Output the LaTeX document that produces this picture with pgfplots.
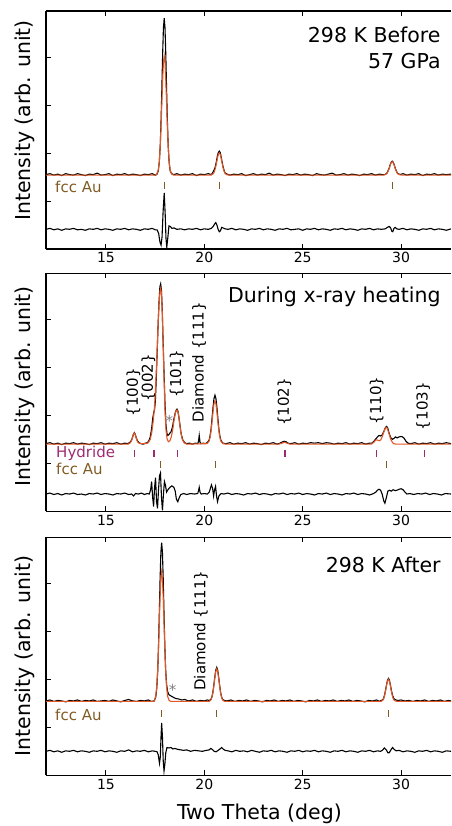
\documentclass[border=0pt]{standalone}
\usepackage{fontspec}
\setmainfont{DejaVu Sans}
\usepackage{pgfplots}
\pgfplotsset{compat=1.18}
\definecolor{fitorange}{RGB}{226,86,38}
\definecolor{aubrown}{RGB}{128,92,36}
\definecolor{hydpurple}{RGB}{158,42,112}
\pgfplotsset{
 panel/.style={
  scale only axis, width=405pt, height=238pt,
  xmin=11.95, xmax=32.54, ymin=0, ymax=4.96,
  axis x line*=box, axis y line*=left, axis line style={-, line width=1.1pt},
  xtick={15,20,25,30}, ytick={1,2,3,4}, yticklabels={},
  tick align=inside, major tick length=5pt,
  tick style={line width=1pt, black},
  xticklabel style={font=\fontsize{14}{16}\selectfont},
  /pgf/number format/assume math mode=true,
  ylabel={Intensity (arb. unit)},
  ylabel style={font=\fontsize{20.5}{24}\selectfont, anchor=center},
 },
 obs/.style={black, line width=1.1pt, mark=none},
 fit/.style={fitorange, line width=1.1pt, mark=none},
 tk/.style={only marks, mark=|, mark size=3.4pt, mark options={line width=1.1pt}},
}
\tikzset{
 ptitle/.style={anchor=east, font=\fontsize{20.5}{24}\selectfont},
 ann/.style={rotate=90, anchor=west, inner sep=0pt, font=\fontsize{15}{18}\selectfont},
 lab/.style={anchor=west, inner sep=0pt, font=\fontsize{15}{18}\selectfont},
}
\begin{document}
\begin{tikzpicture}
\useasboundingbox (0,0) rectangle (451pt,-826pt);
% ---------------- Panel 1 ----------------
\begin{axis}[panel, at={(46pt,-11pt)}, anchor=north west,
  ylabel style={at={(axis description cs:-0.052,0.54)}}]
\addplot[obs] coordinates {(11.95,1.55)(12.15,1.57)(12.35,1.54)(12.55,1.56)(12.75,1.53)(12.95,1.57)(13.15,1.55)(13.35,1.54)(13.55,1.57)(13.75,1.55)(13.95,1.53)(14.15,1.56)(14.35,1.55)(14.55,1.58)(14.75,1.54)(14.95,1.55)(15.15,1.57)(15.35,1.53)(15.55,1.56)(15.75,1.55)(15.95,1.57)(16.15,1.54)(16.35,1.56)(16.55,1.55)(16.75,1.53)(16.95,1.56)(17.15,1.55)(17.35,1.57)(17.5,1.54)
(17.58,1.55)(17.66,1.63)(17.71,1.81)(17.76,2.17)(17.80,2.69)(17.84,3.34)(17.88,4.06)(17.92,4.61)(17.96,4.81)(18.00,4.61)(18.04,4.06)(18.08,3.34)(18.12,2.69)(18.16,2.17)(18.21,1.81)(18.26,1.63)(18.34,1.57)
(18.45,1.55)(18.6,1.57)(18.8,1.54)(19.0,1.56)(19.2,1.55)(19.4,1.57)(19.6,1.53)(19.8,1.56)(20.0,1.55)(20.2,1.57)
(20.36,1.55)(20.45,1.61)(20.51,1.66)(20.56,1.72)(20.61,1.82)(20.66,1.93)(20.71,2.01)(20.76,2.04)(20.81,2.01)(20.86,1.91)(20.91,1.80)(20.96,1.70)(21.01,1.63)(21.06,1.58)(21.16,1.56)
(21.3,1.54)(21.5,1.56)(21.7,1.55)(21.9,1.57)(22.1,1.53)(22.3,1.55)(22.5,1.57)(22.7,1.54)(22.9,1.56)(23.1,1.55)(23.3,1.58)(23.5,1.54)(23.7,1.56)(23.9,1.55)(24.1,1.53)(24.3,1.56)(24.5,1.55)(24.7,1.57)(24.9,1.54)(25.1,1.56)(25.3,1.55)(25.5,1.53)(25.7,1.57)(25.9,1.55)(26.1,1.54)(26.3,1.56)(26.5,1.58)(26.7,1.54)(26.9,1.55)(27.1,1.57)(27.3,1.54)(27.5,1.56)(27.7,1.55)(27.9,1.53)(28.1,1.56)(28.3,1.55)(28.5,1.57)(28.7,1.54)(28.9,1.56)(29.05,1.55)
(29.17,1.55)(29.25,1.57)(29.3,1.59)(29.35,1.64)(29.4,1.69)(29.45,1.76)(29.5,1.81)(29.55,1.83)(29.6,1.81)(29.65,1.76)(29.7,1.69)(29.75,1.64)(29.8,1.59)(29.85,1.57)(29.95,1.55)
(30.1,1.57)(30.3,1.54)(30.5,1.56)(30.7,1.55)(30.9,1.57)(31.1,1.53)(31.3,1.56)(31.5,1.55)(31.7,1.57)(31.9,1.54)(32.1,1.56)(32.3,1.55)(32.54,1.56)};
\addplot[fit] coordinates {(11.95,1.54)(17.5,1.54)(17.58,1.56)(17.66,1.65)(17.71,1.82)(17.76,2.16)(17.80,2.56)(17.84,3.05)(17.88,3.52)(17.92,3.89)(17.96,4.02)(18.00,3.89)(18.04,3.52)(18.08,3.05)(18.12,2.56)(18.16,2.16)(18.21,1.82)(18.26,1.65)(18.34,1.56)(18.45,1.54)(20.3,1.54)(20.36,1.545)(20.46,1.57)(20.51,1.615)(20.56,1.68)(20.61,1.775)(20.66,1.88)(20.71,1.97)(20.76,2.00)(20.81,1.97)(20.86,1.88)(20.91,1.775)(20.96,1.68)(21.01,1.615)(21.06,1.57)(21.16,1.545)(21.3,1.54)(29.1,1.54)(29.15,1.545)(29.25,1.56)(29.3,1.585)(29.35,1.63)(29.4,1.68)(29.45,1.75)(29.5,1.80)(29.55,1.82)(29.6,1.80)(29.65,1.75)(29.7,1.68)(29.75,1.63)(29.8,1.585)(29.85,1.56)(29.95,1.545)(30.1,1.54)(32.54,1.54)};
\addplot[obs] coordinates {(11.95,0.41)(12.15,0.43)(12.35,0.40)(12.55,0.42)(12.75,0.39)(12.95,0.42)(13.15,0.41)(13.35,0.43)(13.55,0.40)(13.75,0.41)(13.95,0.39)(14.15,0.42)(14.35,0.41)(14.55,0.43)(14.75,0.40)(14.95,0.42)(15.15,0.41)(15.35,0.39)(15.55,0.42)(15.75,0.41)(15.95,0.43)(16.15,0.40)(16.35,0.42)(16.55,0.41)(16.75,0.39)(16.95,0.42)(17.15,0.41)(17.35,0.43)(17.5,0.40)(17.6,0.40)(17.68,0.32)(17.74,0.15)(17.8,0.08)(17.85,0.25)(17.9,0.75)(17.96,1.17)(18.01,0.72)(18.05,0.22)(18.09,0.04)(18.14,0.22)(18.2,0.48)(18.27,0.47)(18.35,0.43)(18.45,0.44)(18.6,0.41)(18.8,0.42)(19.0,0.40)(19.2,0.42)(19.4,0.41)(19.6,0.43)(19.8,0.40)(20.0,0.42)(20.2,0.41)(20.35,0.43)(20.45,0.47)(20.52,0.52)(20.58,0.55)(20.64,0.50)(20.7,0.41)(20.76,0.36)(20.82,0.38)(20.88,0.45)(20.95,0.44)(21.05,0.42)(21.2,0.41)(21.4,0.43)(21.6,0.40)(21.8,0.42)(22.0,0.41)(22.2,0.39)(22.4,0.42)(22.6,0.41)(22.8,0.43)(23.0,0.40)(23.2,0.42)(23.4,0.41)(23.6,0.39)(23.8,0.42)(24.0,0.41)(24.2,0.43)(24.4,0.40)(24.6,0.41)(24.8,0.42)(25.0,0.39)(25.2,0.42)(25.4,0.41)(25.6,0.43)(25.8,0.40)(26.0,0.42)(26.2,0.41)(26.4,0.39)(26.6,0.42)(26.8,0.41)(27.0,0.43)(27.2,0.40)(27.4,0.42)(27.6,0.41)(27.8,0.39)(28.0,0.42)(28.2,0.41)(28.4,0.43)(28.6,0.40)(28.8,0.42)(29.0,0.41)(29.2,0.42)(29.3,0.45)(29.4,0.47)(29.47,0.44)(29.53,0.37)(29.58,0.36)(29.64,0.43)(29.7,0.45)(29.78,0.42)(29.9,0.41)(30.1,0.43)(30.3,0.40)(30.5,0.42)(30.7,0.41)(30.9,0.39)(31.1,0.42)(31.3,0.41)(31.5,0.43)(31.7,0.40)(31.9,0.42)(32.1,0.41)(32.3,0.39)(32.54,0.42)};
\addplot[tk, aubrown] coordinates {(17.96,1.33)(20.76,1.33)(29.55,1.33)};
\node[lab, text=aubrown] at (axis cs:12.41,1.29) {fcc Au};
\node[ptitle] at (rel axis cs:0.983,0.899) {298 K Before};
\node[ptitle] at (rel axis cs:0.983,0.79) {57 GPa};
\end{axis}
% ---------------- Panel 2 ----------------
\begin{axis}[panel, at={(46pt,-273.3pt)}, anchor=north west,
  ylabel style={at={(axis description cs:-0.052,0.525)}}]
\addplot[obs] coordinates {(11.95,1.41)(12.15,1.43)(12.35,1.40)(12.55,1.42)(12.75,1.39)(12.95,1.42)(13.15,1.41)(13.35,1.43)(13.55,1.40)(13.75,1.42)(13.95,1.41)(14.15,1.39)(14.35,1.42)(14.55,1.41)(14.75,1.43)(14.95,1.40)(15.15,1.42)(15.35,1.41)(15.55,1.43)(15.75,1.40)(15.95,1.42)(16.1,1.41)(16.2,1.43)(16.28,1.47)(16.34,1.53)(16.39,1.60)(16.44,1.64)(16.49,1.60)(16.54,1.53)(16.6,1.47)(16.68,1.43)(16.78,1.41)(16.9,1.40)(17.0,1.42)(17.1,1.43)(17.18,1.47)(17.25,1.55)(17.32,1.72)(17.38,1.95)(17.43,2.06)(17.47,2.12)(17.51,2.3)(17.55,2.7)(17.6,3.3)(17.65,3.9)(17.7,4.4)(17.74,4.68)(17.78,4.74)(17.82,4.6)(17.86,4.2)(17.9,3.6)(17.95,2.9)(18.0,2.25)(18.05,1.8)(18.1,1.62)(18.15,1.58)(18.2,1.6)(18.25,1.63)(18.31,1.66)(18.38,1.76)(18.45,1.92)(18.52,2.05)(18.57,2.11)(18.61,2.13)(18.65,2.10)(18.7,1.98)(18.76,1.80)(18.82,1.62)(18.9,1.49)(19.0,1.43)(19.1,1.41)(19.25,1.42)(19.4,1.40)(19.55,1.42)(19.66,1.41)(19.7,1.45)(19.74,1.58)(19.78,1.44)(19.82,1.41)(19.95,1.42)(20.05,1.41)(20.14,1.43)(20.24,1.48)(20.29,1.57)(20.34,1.71)(20.39,1.93)(20.44,2.16)(20.49,2.35)(20.54,2.42)(20.59,2.35)(20.64,2.16)(20.69,1.93)(20.74,1.71)(20.79,1.57)(20.84,1.48)(20.94,1.42)(21.1,1.41)(21.3,1.43)(21.5,1.40)(21.7,1.42)(21.9,1.41)(22.1,1.43)(22.3,1.40)(22.5,1.42)(22.7,1.41)(22.9,1.39)(23.1,1.42)(23.3,1.41)(23.5,1.43)(23.7,1.40)(23.85,1.42)(23.95,1.44)(24.05,1.46)(24.15,1.45)(24.25,1.42)(24.4,1.41)(24.6,1.43)(24.8,1.40)(25.0,1.42)(25.2,1.41)(25.4,1.43)(25.6,1.42)(25.8,1.43)(26.0,1.41)(26.2,1.43)(26.4,1.42)(26.6,1.40)(26.8,1.42)(27.0,1.41)(27.2,1.43)(27.4,1.40)(27.6,1.42)(27.8,1.41)(28.0,1.43)(28.2,1.40)(28.4,1.42)(28.52,1.42)(28.6,1.45)(28.7,1.50)(28.8,1.55)(28.88,1.58)(28.96,1.57)(29.04,1.59)(29.12,1.66)(29.2,1.74)(29.26,1.77)(29.32,1.74)(29.4,1.62)(29.48,1.53)(29.56,1.50)(29.64,1.52)(29.72,1.55)(29.8,1.53)(29.9,1.55)(30.0,1.56)(30.08,1.55)(30.16,1.52)(30.25,1.46)(30.35,1.42)(30.5,1.41)(30.7,1.43)(30.9,1.40)(31.1,1.42)(31.3,1.41)(31.5,1.43)(31.7,1.40)(31.9,1.42)(32.1,1.41)(32.3,1.43)(32.54,1.41)};
\addplot[fit] coordinates {(11.95,1.40)(16.14,1.40)(16.24,1.43)(16.3,1.47)(16.36,1.55)(16.4,1.61)(16.44,1.63)(16.48,1.61)(16.52,1.55)(16.58,1.47)(16.64,1.43)(16.74,1.41)(17.05,1.41)(17.15,1.43)(17.25,1.50)(17.33,1.65)(17.4,1.88)(17.45,2.1)(17.5,2.4)(17.55,2.85)(17.6,3.35)(17.65,3.9)(17.7,4.35)(17.75,4.6)(17.78,4.65)(17.82,4.55)(17.86,4.15)(17.9,3.55)(17.95,2.8)(18.0,2.1)(18.05,1.7)(18.1,1.52)(18.17,1.45)(18.25,1.47)(18.32,1.55)(18.4,1.72)(18.47,1.93)(18.54,2.07)(18.61,2.11)(18.68,2.04)(18.74,1.85)(18.8,1.65)(18.88,1.5)(18.97,1.43)(19.1,1.40)(20.14,1.41)(20.24,1.46)(20.29,1.54)(20.34,1.67)(20.39,1.86)(20.44,2.07)(20.49,2.24)(20.54,2.30)(20.59,2.24)(20.64,2.07)(20.69,1.86)(20.74,1.67)(20.79,1.54)(20.84,1.46)(20.94,1.41)(21.1,1.40)(23.8,1.40)(23.95,1.42)(24.07,1.44)(24.2,1.42)(24.35,1.40)(28.5,1.40)(28.62,1.44)(28.7,1.48)(28.76,1.49)(28.82,1.48)(28.9,1.47)(28.97,1.49)(29.05,1.56)(29.12,1.65)(29.2,1.73)(29.25,1.75)(29.3,1.73)(29.38,1.63)(29.46,1.52)(29.54,1.45)(29.62,1.41)(29.75,1.40)(32.54,1.40)};
\addplot[obs] coordinates {(11.95,0.36)(12.15,0.38)(12.35,0.35)(12.55,0.37)(12.75,0.34)(12.95,0.37)(13.15,0.36)(13.35,0.38)(13.55,0.35)(13.75,0.36)(13.95,0.34)(14.15,0.37)(14.35,0.36)(14.55,0.38)(14.75,0.35)(14.95,0.37)(15.15,0.36)(15.35,0.34)(15.55,0.37)(15.75,0.36)(15.95,0.38)(16.15,0.35)(16.3,0.36)(16.4,0.32)(16.5,0.37)(16.65,0.36)(16.8,0.38)(16.95,0.35)(17.1,0.37)(17.2,0.36)(17.27,0.45)(17.32,0.62)(17.37,0.30)(17.42,0.10)(17.47,0.50)(17.52,0.70)(17.57,0.20)(17.62,0.06)(17.67,0.45)(17.72,0.74)(17.77,0.80)(17.82,0.30)(17.87,0.02)(17.92,0.35)(17.97,0.62)(18.02,0.55)(18.08,0.40)(18.15,0.45)(18.25,0.50)(18.35,0.53)(18.45,0.50)(18.52,0.42)(18.58,0.25)(18.65,0.20)(18.72,0.28)(18.8,0.35)(18.95,0.37)(19.1,0.35)(19.3,0.37)(19.5,0.36)(19.66,0.37)(19.7,0.42)(19.74,0.50)(19.78,0.40)(19.84,0.36)(20.0,0.37)(20.15,0.36)(20.25,0.40)(20.31,0.48)(20.36,0.55)(20.42,0.48)(20.47,0.32)(20.52,0.45)(20.57,0.52)(20.62,0.32)(20.67,0.20)(20.74,0.32)(20.85,0.37)(21.0,0.36)(21.2,0.38)(21.4,0.35)(21.6,0.37)(21.8,0.36)(22.0,0.34)(22.2,0.37)(22.4,0.36)(22.6,0.38)(22.8,0.35)(23.0,0.37)(23.2,0.36)(23.4,0.34)(23.6,0.37)(23.8,0.36)(24.0,0.38)(24.2,0.35)(24.4,0.37)(24.6,0.36)(24.8,0.38)(25.0,0.35)(25.2,0.37)(25.4,0.36)(25.6,0.34)(25.8,0.37)(26.0,0.36)(26.2,0.38)(26.4,0.35)(26.6,0.37)(26.8,0.36)(27.0,0.34)(27.2,0.37)(27.4,0.36)(27.6,0.38)(27.8,0.35)(28.0,0.37)(28.2,0.36)(28.4,0.34)(28.6,0.37)(28.72,0.40)(28.8,0.44)(28.88,0.46)(28.96,0.44)(29.04,0.36)(29.12,0.22)(29.18,0.17)(29.25,0.28)(29.33,0.42)(29.42,0.44)(29.5,0.42)(29.6,0.45)(29.7,0.43)(29.8,0.44)(29.9,0.46)(30.0,0.47)(30.1,0.45)(30.2,0.40)(30.3,0.36)(30.45,0.37)(30.65,0.35)(30.85,0.37)(31.05,0.36)(31.25,0.38)(31.45,0.35)(31.65,0.37)(31.85,0.36)(32.05,0.34)(32.25,0.37)(32.54,0.36)};
\addplot[tk, hydpurple] coordinates {(16.44,1.20)(17.44,1.20)(18.64,1.20)(24.10,1.20)(28.73,1.20)(31.20,1.20)};
\addplot[tk, aubrown] coordinates {(17.76,0.98)(20.56,0.98)(29.24,0.98)};
\node[lab, text=hydpurple] at (axis cs:12.46,1.21) {Hydride};
\node[lab, text=aubrown] at (axis cs:12.46,0.89) {fcc Au};
\node[ann] at (axis cs:16.39,1.98) {\{100\}};
\node[ann] at (axis cs:17.15,2.28) {\{002\}};
\node[ann] at (axis cs:18.59,2.37) {\{101\}};
\node[ann] at (axis cs:19.73,1.85) {Diamond \{111\}};
\node[ann] at (axis cs:24.07,1.78) {\{102\}};
\node[ann] at (axis cs:28.76,1.81) {\{110\}};
\node[ann] at (axis cs:31.13,1.69) {\{103\}};
\node[gray, font=\fontsize{15}{18}\selectfont] at (axis cs:18.22,1.88) {*};
\node[ptitle] at (rel axis cs:0.983,0.902) {During x-ray heating};
\end{axis}
% ---------------- Panel 3 ----------------
\begin{axis}[panel, at={(46pt,-537.3pt)}, anchor=north west,
  ylabel style={at={(axis description cs:-0.052,0.5)}},
  xlabel={Two Theta (deg)},
  xlabel style={font=\fontsize{20.5}{24}\selectfont, at={(axis description cs:0.527,-0.16)}, anchor=center}]
\addplot[obs] coordinates {(11.95,1.55)(12.15,1.57)(12.35,1.54)(12.55,1.56)(12.75,1.55)(12.95,1.53)(13.15,1.56)(13.35,1.55)(13.55,1.57)(13.75,1.54)(13.95,1.56)(14.15,1.55)(14.35,1.57)(14.55,1.54)(14.75,1.55)(14.95,1.56)(15.15,1.54)(15.35,1.57)(15.55,1.55)(15.75,1.53)(15.95,1.56)(16.15,1.58)(16.35,1.55)(16.55,1.54)(16.75,1.56)(16.95,1.55)(17.15,1.57)(17.3,1.54)(17.45,1.55)(17.53,1.63)(17.58,1.81)(17.63,2.17)(17.67,2.70)(17.71,3.37)(17.75,4.09)(17.79,4.64)(17.83,4.85)(17.87,4.64)(17.91,4.09)(17.95,3.37)(17.99,2.72)(18.03,2.22)(18.08,1.90)(18.13,1.75)(18.2,1.68)(18.28,1.66)(18.36,1.64)(18.45,1.62)(18.55,1.60)(18.7,1.59)(18.85,1.57)(19.0,1.58)(19.2,1.55)(19.4,1.57)(19.6,1.54)(19.8,1.56)(20.0,1.55)(20.15,1.57)(20.25,1.56)(20.33,1.58)(20.38,1.63)(20.43,1.72)(20.48,1.87)(20.53,2.04)(20.58,2.19)(20.63,2.25)(20.68,2.19)(20.73,2.04)(20.78,1.87)(20.83,1.72)(20.88,1.63)(20.93,1.58)(21.01,1.56)(21.15,1.55)(21.35,1.57)(21.55,1.54)(21.75,1.56)(21.95,1.55)(22.15,1.57)(22.35,1.54)(22.55,1.56)(22.75,1.55)(22.95,1.53)(23.15,1.56)(23.35,1.55)(23.55,1.57)(23.75,1.54)(23.95,1.56)(24.15,1.55)(24.35,1.57)(24.55,1.54)(24.75,1.56)(24.95,1.55)(25.15,1.53)(25.35,1.56)(25.55,1.55)(25.75,1.57)(25.95,1.54)(26.15,1.56)(26.35,1.55)(26.55,1.57)(26.75,1.54)(26.95,1.56)(27.15,1.55)(27.35,1.57)(27.55,1.54)(27.75,1.56)(27.95,1.55)(28.15,1.53)(28.35,1.56)(28.55,1.55)(28.75,1.57)(28.9,1.54)(28.98,1.56)(29.06,1.57)(29.11,1.60)(29.16,1.67)(29.21,1.77)(29.26,1.88)(29.31,1.98)(29.36,2.02)(29.41,1.98)(29.46,1.88)(29.51,1.77)(29.56,1.68)(29.61,1.62)(29.66,1.59)(29.74,1.57)(29.85,1.56)(30.0,1.57)(30.2,1.55)(30.4,1.56)(30.6,1.54)(30.8,1.56)(31.0,1.55)(31.2,1.57)(31.4,1.54)(31.6,1.56)(31.8,1.55)(32.0,1.57)(32.2,1.54)(32.4,1.56)(32.54,1.55)};
\addplot[fit] coordinates {(11.95,1.54)(17.45,1.54)(17.53,1.65)(17.58,1.85)(17.63,2.21)(17.67,2.65)(17.71,3.18)(17.75,3.70)(17.79,4.09)(17.83,4.24)(17.87,4.09)(17.91,3.70)(17.95,3.18)(17.99,2.65)(18.03,2.21)(18.08,1.85)(18.13,1.65)(18.21,1.56)(18.3,1.54)(20.25,1.54)(20.33,1.57)(20.38,1.62)(20.43,1.71)(20.48,1.85)(20.53,2.02)(20.58,2.16)(20.63,2.22)(20.68,2.16)(20.73,2.02)(20.78,1.85)(20.83,1.71)(20.88,1.62)(20.93,1.57)(21.01,1.545)(21.1,1.54)(28.98,1.54)(29.06,1.56)(29.11,1.59)(29.16,1.655)(29.21,1.75)(29.26,1.87)(29.31,1.96)(29.36,2.00)(29.41,1.96)(29.46,1.87)(29.51,1.75)(29.56,1.655)(29.61,1.59)(29.66,1.56)(29.74,1.545)(29.85,1.54)(32.54,1.54)};
\addplot[obs] coordinates {(11.95,0.50)(12.15,0.52)(12.35,0.49)(12.55,0.51)(12.75,0.48)(12.95,0.51)(13.15,0.50)(13.35,0.52)(13.55,0.49)(13.75,0.51)(13.95,0.50)(14.15,0.48)(14.35,0.51)(14.55,0.50)(14.75,0.52)(14.95,0.49)(15.15,0.51)(15.35,0.50)(15.55,0.48)(15.75,0.51)(15.95,0.50)(16.15,0.53)(16.35,0.49)(16.55,0.51)(16.75,0.50)(16.95,0.52)(17.15,0.49)(17.35,0.51)(17.5,0.50)(17.6,0.49)(17.66,0.42)(17.72,0.25)(17.76,0.38)(17.8,0.82)(17.83,1.09)(17.87,0.80)(17.91,0.30)(17.95,0.09)(17.99,0.22)(18.04,0.47)(18.1,0.58)(18.2,0.57)(18.3,0.58)(18.4,0.55)(18.5,0.56)(18.65,0.54)(18.8,0.53)(18.95,0.52)(19.1,0.53)(19.3,0.50)(19.5,0.52)(19.7,0.51)(19.9,0.50)(20.1,0.52)(20.25,0.53)(20.33,0.56)(20.4,0.54)(20.5,0.50)(20.6,0.49)(20.7,0.52)(20.8,0.55)(20.88,0.58)(20.95,0.55)(21.05,0.52)(21.2,0.51)(21.4,0.49)(21.6,0.52)(21.8,0.50)(22.0,0.51)(22.2,0.49)(22.4,0.52)(22.6,0.50)(22.8,0.48)(23.0,0.51)(23.2,0.50)(23.4,0.52)(23.6,0.49)(23.8,0.51)(24.0,0.50)(24.2,0.48)(24.4,0.51)(24.6,0.50)(24.8,0.52)(25.0,0.49)(25.2,0.51)(25.4,0.50)(25.6,0.52)(25.8,0.49)(26.0,0.51)(26.2,0.50)(26.4,0.48)(26.6,0.51)(26.8,0.50)(27.0,0.52)(27.2,0.49)(27.4,0.51)(27.6,0.50)(27.8,0.48)(28.0,0.51)(28.2,0.50)(28.4,0.52)(28.6,0.49)(28.8,0.51)(28.95,0.50)(29.05,0.52)(29.15,0.57)(29.25,0.53)(29.33,0.47)(29.4,0.47)(29.5,0.54)(29.57,0.58)(29.65,0.54)(29.75,0.51)(29.9,0.52)(30.1,0.49)(30.3,0.51)(30.5,0.50)(30.7,0.48)(30.9,0.51)(31.1,0.50)(31.3,0.52)(31.5,0.49)(31.7,0.51)(31.9,0.50)(32.1,0.48)(32.3,0.51)(32.54,0.50)};
\addplot[tk, aubrown] coordinates {(17.83,1.29)(20.63,1.29)(29.36,1.29)};
\node[lab, text=aubrown] at (axis cs:12.41,1.26) {fcc Au};
\node[ann] at (axis cs:19.83,1.76) {Diamond \{111\}};
\node[gray, font=\fontsize{15}{18}\selectfont] at (axis cs:18.39,1.78) {*};
\node[ptitle] at (rel axis cs:0.983,0.884) {298 K After};
\end{axis}
\end{tikzpicture}
\end{document}
